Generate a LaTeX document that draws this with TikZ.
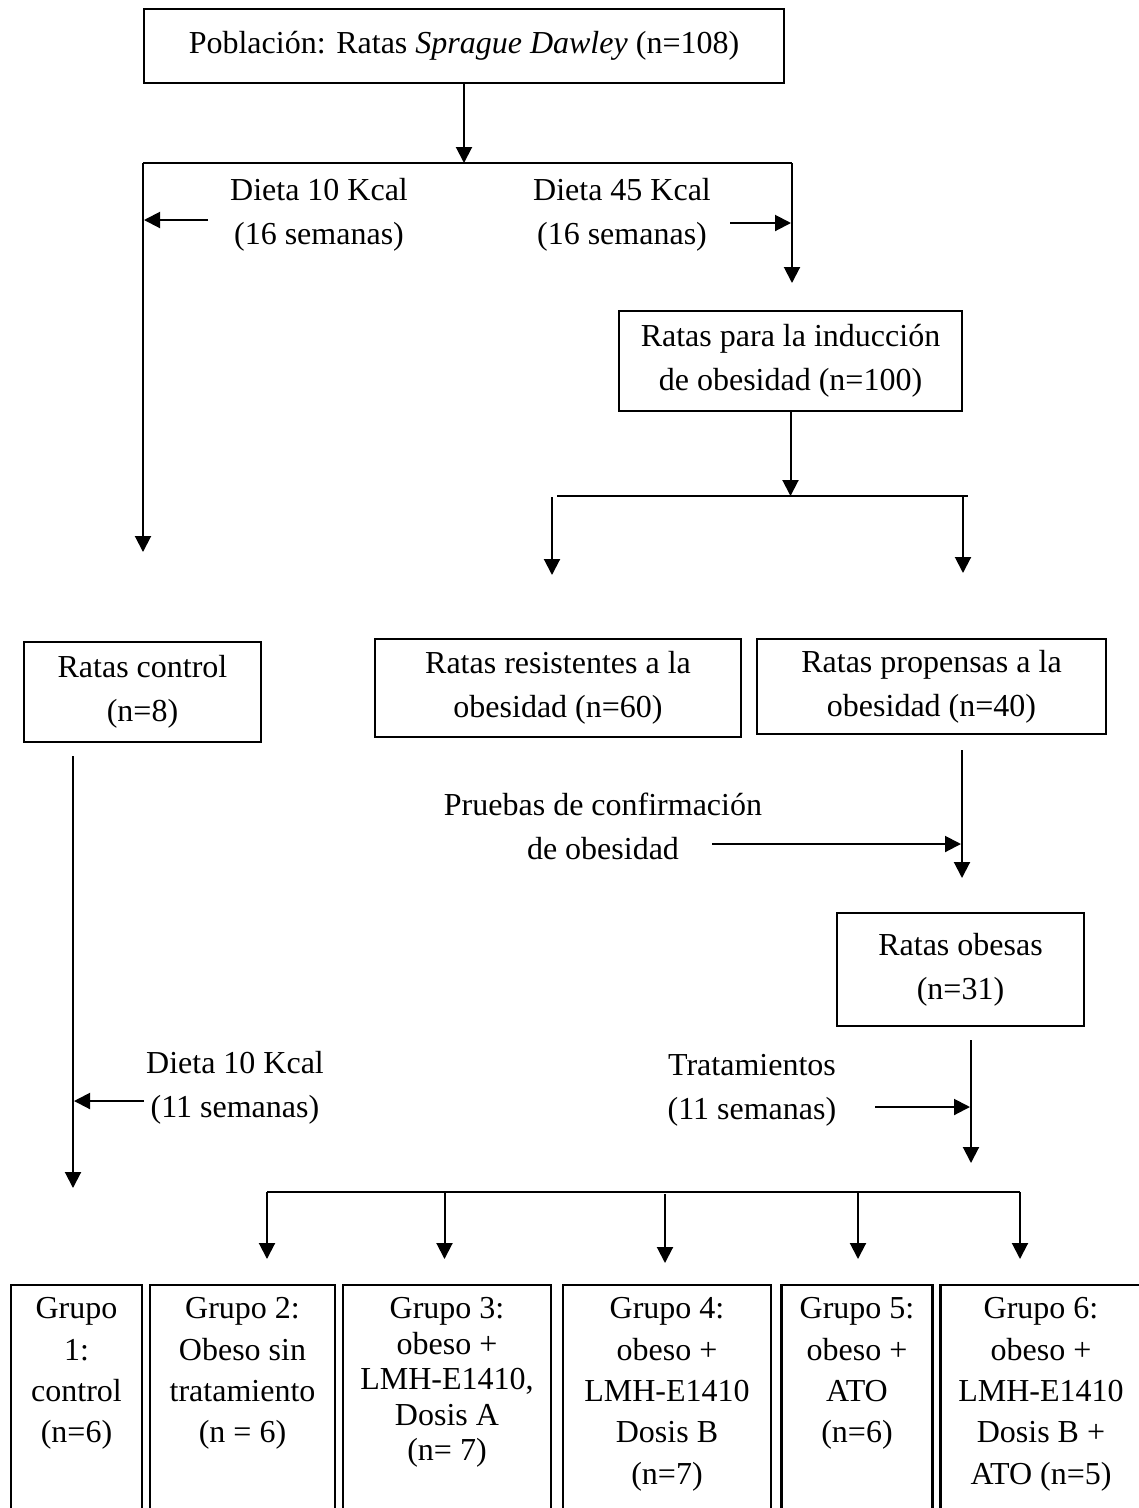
\documentclass[tikz,border=0pt]{standalone}
\usepackage{fontspec}
\setmainfont{Liberation Serif}
\usetikzlibrary{arrows.meta}
\tikzset{
  wh/.style 2 args={minimum width=#1*0.375pt, minimum height=#2*0.375pt},
  box/.style={draw, line width=0.9pt, align=center, inner sep=0pt, font=\fontsize{12}{16.5}\selectfont},
  lbl/.style={align=center, inner sep=0pt, font=\fontsize{12}{16.5}\selectfont},
  gbox/.style={draw, line width=0.9pt, anchor=north, align=center, inner xsep=0pt, inner ysep=4.7pt, text depth=140pt, font=\fontsize{12}{15.5}\selectfont},
  arr/.style={-{Triangle[width=6pt,length=6pt]}, line width=0.75pt},
  ln/.style={line width=0.75pt}
}
\begin{document}
\begin{tikzpicture}[x=0.375pt, y=-0.375pt]
\useasboundingbox (0,0) rectangle (1139,1508);
\clip (0,0) rectangle (1139,1508);
% boxes
\node[box, wh={640}{74}] (pop) at (464,46) {Población: Ratas \textit{Sprague Dawley} (n=108)};
\node[box, wh={343}{100}] (ind) at (790.5,361) {Ratas para la inducción\\de obesidad (n=100)};
\node[box, wh={237}{100}] (ctl) at (142.5,692) {Ratas control\\(n=8)};
\node[box, wh={366}{98}] (res) at (558,688) {Ratas resistentes a la\\obesidad (n=60)};
\node[box, wh={349}{95}] (pro) at (931.5,686.5) {Ratas propensas a la\\obesidad (n=40)};
\node[box, wh={247}{113}] (obe) at (960.5,969.5) {Ratas obesas\\(n=31)};
% labels
\node[lbl] (d10) at (319,215) {Dieta 10 Kcal\\(16 semanas)};
\node[lbl] (d45) at (622,215) {Dieta 45 Kcal\\(16 semanas)};
\node[lbl] (pru) at (603,826) {Pruebas de confirmación\\de obesidad};
\node[lbl] (tra) at (752,1090) {Tratamientos\\(11 semanas)};
\node[lbl] (d10b) at (235,1088) {Dieta 10 Kcal\\(11 semanas)};
% group boxes
\node[gbox, minimum width=131*0.375pt] (g1) at (76.5,1284) {Grupo\\1:\\control\\(n=6)};
\node[gbox, minimum width=185*0.375pt] (g2) at (242.5,1284) {Grupo 2:\\Obeso sin\\tratamiento\\(n = 6)};
\node[gbox, minimum width=207.5*0.375pt, font=\fontsize{12}{13.3}\selectfont] (g3) at (447,1284) {Grupo 3:\\obeso +\\LMH-E1410,\\Dosis A\\(n= 7)};
\node[gbox, minimum width=208*0.375pt] (g4) at (667,1284) {Grupo 4:\\obeso +\\LMH-E1410\\Dosis B\\(n=7)};
\node[gbox, minimum width=151*0.375pt] (g5) at (857,1284) {Grupo 5:\\obeso +\\ATO\\(n=6)};
\node[gbox, minimum width=201*0.375pt] (g6) at (1041,1284) {Grupo 6:\\obeso +\\LMH-E1410\\Dosis B +\\ATO (n=5)};
% coordinates
\coordinate (b0) at (464,163);
\coordinate (bl) at (143,163);
\coordinate (br) at (792,163);
\coordinate (bld) at (143,552);
\coordinate (brd) at (792,283);
\coordinate (a10s) at (208,220); \coordinate (a10e) at (144,220);
\coordinate (a45s) at (730,223); \coordinate (a45e) at (791,223);
\coordinate (c1) at (790.5,496);
\coordinate (bar2l) at (557,496); \coordinate (bar2r) at (968,496);
\coordinate (r2s) at (552,497); \coordinate (r2e) at (552,575);
\coordinate (p2s) at (963,496); \coordinate (p2e) at (963,573);
\coordinate (pl1) at (962,750); \coordinate (pl2) at (962,878);
\coordinate (pa1) at (712,844); \coordinate (pa2) at (961,844);
\coordinate (ol1) at (971,1040); \coordinate (ol2) at (971,1163);
\coordinate (ta1) at (875,1107); \coordinate (ta2) at (970,1107);
\coordinate (cl1) at (73,756); \coordinate (cl2) at (73,1188);
\coordinate (ca1) at (144,1101); \coordinate (ca2) at (74,1101);
\coordinate (g0l) at (267,1192); \coordinate (g0r) at (1020,1192);
\coordinate (s2) at (444.5,1192); \coordinate (s3) at (665,1194); \coordinate (s4) at (858,1192);
\coordinate (t1) at (267,1259); \coordinate (t2) at (444.5,1259); \coordinate (t3) at (665,1263);
\coordinate (t4) at (858,1259); \coordinate (t5) at (1020,1259);
% connectors
\draw[arr] (pop.south) -- (b0);
\draw[ln] (bl) -- (br);
\draw[arr] (bl) -- (bld);
\draw[arr] (br) -- (brd);
\draw[arr] (a10s) -- (a10e);
\draw[arr] (a45s) -- (a45e);
\draw[arr] (ind.south) -- (c1);
\draw[ln] (bar2l) -- (bar2r);
\draw[arr] (r2s) -- (r2e);
\draw[arr] (p2s) -- (p2e);
\draw[arr] (pl1) -- (pl2);
\draw[arr] (pa1) -- (pa2);
\draw[arr] (ol1) -- (ol2);
\draw[arr] (ta1) -- (ta2);
\draw[arr] (cl1) -- (cl2);
\draw[arr] (ca1) -- (ca2);
\draw[ln] (g0l) -- (g0r);
\draw[arr] (g0l) -- (t1);
\draw[arr] (s2) -- (t2);
\draw[arr] (s3) -- (t3);
\draw[arr] (s4) -- (t4);
\draw[arr] (g0r) -- (t5);
\end{tikzpicture}
\end{document}
